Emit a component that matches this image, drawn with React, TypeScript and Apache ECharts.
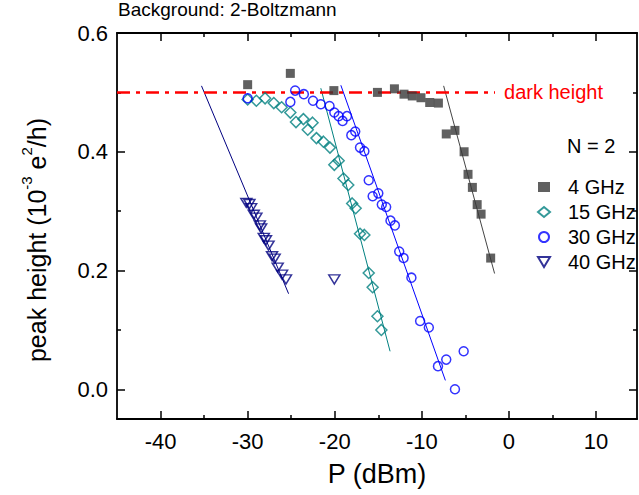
import React, { useEffect, useRef } from "react";
import * as echarts from "echarts";

const xMajorTicks = [-40, -30, -20, -10, 0, 10];
const xMinorTicks = [-35, -25, -15, -5, 5];
const yMajorTicks = [0, 0.2, 0.4, 0.6];
const yMinorTicks = [0.1, 0.3, 0.5];

const seriesNames = ["4 GHz", "15 GHz", "30 GHz", "40 GHz"];

const ghz4: number[][] = [
  [-30.0, 0.513], [-25.1, 0.532], [-20.1, 0.503], [-15.1, 0.5], [-13.15, 0.506],
  [-12.05, 0.497], [-11.1, 0.494], [-10.1, 0.491], [-9.1, 0.483], [-8.1, 0.482],
  [-7.2, 0.43], [-6.2, 0.436], [-5.15, 0.4], [-4.7, 0.362], [-4.2, 0.34],
  [-3.65, 0.311], [-3.2, 0.295], [-2.1, 0.221],
];
const ghz15: number[][] = [
  [-30.0, 0.488], [-29.0, 0.486], [-28.0, 0.49], [-27.0, 0.482], [-26.1, 0.475],
  [-25.1, 0.466], [-24.45, 0.45], [-23.6, 0.455], [-23.1, 0.437], [-22.55, 0.449],
  [-22.1, 0.423], [-21.3, 0.417], [-20.55, 0.407], [-19.55, 0.385], [-20.05, 0.378],
  [-19.0, 0.355], [-18.45, 0.344], [-18.0, 0.313], [-17.6, 0.305], [-17.1, 0.262],
  [-16.6, 0.26], [-16.1, 0.196], [-15.65, 0.172], [-15.1, 0.123], [-14.65, 0.1],
];
const ghz30: number[][] = [
  [-30.0, 0.49], [-25.1, 0.484], [-24.55, 0.503], [-23.55, 0.497], [-22.5, 0.486],
  [-21.6, 0.48], [-20.6, 0.477], [-20.05, 0.466], [-19.55, 0.46], [-19.1, 0.452],
  [-18.6, 0.46], [-18.1, 0.428], [-17.65, 0.434], [-17.1, 0.407], [-16.6, 0.401],
  [-16.1, 0.352], [-15.65, 0.325], [-15.0, 0.33], [-14.6, 0.311], [-14.1, 0.307],
  [-13.6, 0.284], [-13.1, 0.276], [-12.6, 0.232], [-12.1, 0.221], [-11.2, 0.188],
  [-10.2, 0.115], [-9.2, 0.104], [-8.15, 0.039], [-7.2, 0.05], [-6.2, 0.0], [-5.2, 0.064],
];
const ghz40: number[][] = [
  [-30.15, 0.314], [-29.8, 0.312], [-29.6, 0.305], [-29.3, 0.294], [-29.0, 0.289],
  [-28.6, 0.276], [-28.45, 0.271], [-28.15, 0.255], [-27.9, 0.251], [-27.6, 0.242],
  [-27.2, 0.224], [-26.9, 0.22], [-26.55, 0.205], [-26.05, 0.193], [-25.6, 0.185],
  [-20.05, 0.185],
];

const fit4: number[][] = [[-7.5, 0.511], [-1.65, 0.195]];
const fit15: number[][] = [[-21.6, 0.507], [-13.65, 0.064]];
const fit30: number[][] = [[-19.3, 0.512], [-7.3, 0.015]];
const fit40: number[][] = [[-35.3, 0.511], [-25.3, 0.161]];

const darkHeight: number[][] = [[-45, 0.5], [-1.6, 0.5]];

const FONT = '"Liberation Sans", Arial, sans-serif';
const X_MIN = -45;
const X_MAX = 14.7;
const Y_MIN = -0.05;
const Y_MAX = 0.6;

const DOWN_TRIANGLE = "path://M0,0L12,0L6,10Z";

export default function App() {
  const ref = useRef<HTMLDivElement>(null);
  useEffect(() => {
    if (!ref.current) return;
    const chart = echarts.init(ref.current, undefined, { renderer: "svg" });

    const baseX = {
      type: "value",
      min: X_MIN,
      max: X_MAX,
      splitLine: { show: false },
    };
    const baseY = {
      type: "value",
      min: Y_MIN,
      max: Y_MAX,
      splitLine: { show: false },
    };
    const axisLineStyle = { color: "#000", width: 1.8 };
    const tickStyle = { color: "#000", width: 1.5 };
    const shownLine = { show: true, onZero: false, lineStyle: axisLineStyle };
    const hiddenLine = { show: false, onZero: false };

    const fitLine = (data: number[][], color: string) => ({
      type: "line",
      data,
      showSymbol: false,
      symbol: "none",
      silent: true,
      lineStyle: { color, width: 1 },
      z: 1,
    });

    chart.setOption({
      animation: false,
      backgroundColor: "#fff",
      grid: { left: 117, top: 33, width: 520, height: 386 },
      xAxis: [
        {
          ...baseX,
          position: "bottom",
          axisLine: shownLine,
          axisTick: { show: true, inside: true, length: 8, customValues: xMajorTicks, lineStyle: tickStyle },
          axisLabel: {
            show: true,
            customValues: xMajorTicks,
            fontSize: 22,
            color: "#000",
            fontFamily: FONT,
            margin: 11,
          },
          name: "P (dBm)",
          nameLocation: "middle",
          nameGap: 41,
          nameTextStyle: { fontSize: 27, color: "#000", fontFamily: FONT },
        },
        {
          ...baseX,
          position: "bottom",
          axisLine: hiddenLine,
          axisTick: { show: true, inside: true, length: 4, customValues: xMinorTicks, lineStyle: tickStyle },
          axisLabel: { show: false },
        },
        {
          ...baseX,
          position: "top",
          axisLine: shownLine,
          axisTick: { show: true, inside: true, length: 8, customValues: xMajorTicks, lineStyle: tickStyle },
          axisLabel: { show: false },
        },
        {
          ...baseX,
          position: "top",
          axisLine: hiddenLine,
          axisTick: { show: true, inside: true, length: 4, customValues: xMinorTicks, lineStyle: tickStyle },
          axisLabel: { show: false },
        },
      ],
      yAxis: [
        {
          ...baseY,
          position: "left",
          axisLine: shownLine,
          axisTick: { show: true, inside: true, length: 8, customValues: yMajorTicks, lineStyle: tickStyle },
          axisLabel: {
            show: true,
            customValues: yMajorTicks,
            formatter: (v: number) => v.toFixed(1),
            fontSize: 22,
            color: "#000",
            fontFamily: FONT,
            margin: 9,
          },
        },
        {
          ...baseY,
          position: "left",
          axisLine: hiddenLine,
          axisTick: { show: true, inside: true, length: 4, customValues: yMinorTicks, lineStyle: tickStyle },
          axisLabel: { show: false },
        },
        {
          ...baseY,
          position: "right",
          axisLine: shownLine,
          axisTick: { show: true, inside: true, length: 8, customValues: yMajorTicks, lineStyle: tickStyle },
          axisLabel: { show: false },
        },
        {
          ...baseY,
          position: "right",
          axisLine: hiddenLine,
          axisTick: { show: true, inside: true, length: 4, customValues: yMinorTicks, lineStyle: tickStyle },
          axisLabel: { show: false },
        },
      ],
      legend: {
        data: [
          { name: seriesNames[0] },
          { name: seriesNames[1] },
          { name: seriesNames[2] },
          { name: seriesNames[3], icon: DOWN_TRIANGLE },
        ],
        orient: "vertical",
        left: 532,
        top: 172,
        itemWidth: 12,
        itemHeight: 10,
        itemGap: 5,
        symbolKeepAspect: true,
        textStyle: {
          fontSize: 20,
          color: "#000",
          fontFamily: FONT,
          lineHeight: 20,
          padding: [0, 0, 0, 13],
        },
      },
      graphic: [
        {
          type: "text",
          x: 118,
          y: 19,
          style: {
            text: "Background: 2-Boltzmann",
            fill: "#000",
            font: `19px ${FONT}`,
            textAlign: "left",
            textVerticalAlign: "bottom",
          },
        },
        {
          type: "text",
          x: 567,
          y: 146,
          style: {
            text: "N = 2",
            fill: "#000",
            font: `20px ${FONT}`,
            textAlign: "left",
            textVerticalAlign: "middle",
          },
        },
        {
          type: "text",
          x: 34,
          y: 240,
          rotation: Math.PI / 2,
          style: {
            text: "{n|peak height (10}{s|-3}{n| e}{s|2}{n|/h)}",
            textAlign: "center",
            textVerticalAlign: "middle",
            fill: "#000",
            rich: {
              n: { fontSize: 25, fontFamily: FONT, fill: "#000", lineHeight: 30, verticalAlign: "bottom" },
              s: { fontSize: 15, fontFamily: FONT, fill: "#000", lineHeight: 30, verticalAlign: "top" },
            },
          },
        },
      ],
      series: [
        fitLine(fit4, "#444"),
        fitLine(fit15, "#008080"),
        fitLine(fit30, "#0000ff"),
        fitLine(fit40, "#000080"),
        {
          type: "line",
          data: darkHeight,
          showSymbol: false,
          symbol: "none",
          silent: true,
          z: 2,
          lineStyle: { color: "#ff0000", width: 2.5, type: [13, 6, 4, 6] },
          endLabel: {
            show: true,
            formatter: "dark height",
            color: "#ff0000",
            fontSize: 20,
            fontFamily: FONT,
            distance: 9,
          },
        },
        {
          name: seriesNames[0],
          type: "scatter",
          data: ghz4,
          symbol: "rect",
          symbolSize: 9,
          symbolKeepAspect: true,
          itemStyle: { color: "#383838" },
          z: 3,
        },
        {
          name: seriesNames[1],
          type: "scatter",
          data: ghz15,
          symbol: "diamond",
          symbolSize: 11,
          symbolKeepAspect: true,
          itemStyle: { color: "rgba(255,255,255,0)", borderColor: "#008080", borderWidth: 1.5 },
          z: 3,
        },
        {
          name: seriesNames[2],
          type: "scatter",
          data: ghz30,
          symbol: "circle",
          symbolSize: 9,
          symbolKeepAspect: true,
          itemStyle: { color: "rgba(255,255,255,0)", borderColor: "#0000ff", borderWidth: 1.5 },
          z: 3,
        },
        {
          name: seriesNames[3],
          type: "scatter",
          data: ghz40,
          symbol: "triangle",
          symbolRotate: 180,
          symbolSize: [11, 9],
          symbolKeepAspect: true,
          itemStyle: { color: "rgba(255,255,255,0)", borderColor: "#000080", borderWidth: 1.5 },
          z: 3,
        },
      ],
    });
    return () => chart.dispose();
  }, []);

  return (
    <div
      ref={ref}
      style={{ position: "fixed", left: 0, top: 0, width: 639, height: 495, background: "#fff" }}
    />
  );
}
